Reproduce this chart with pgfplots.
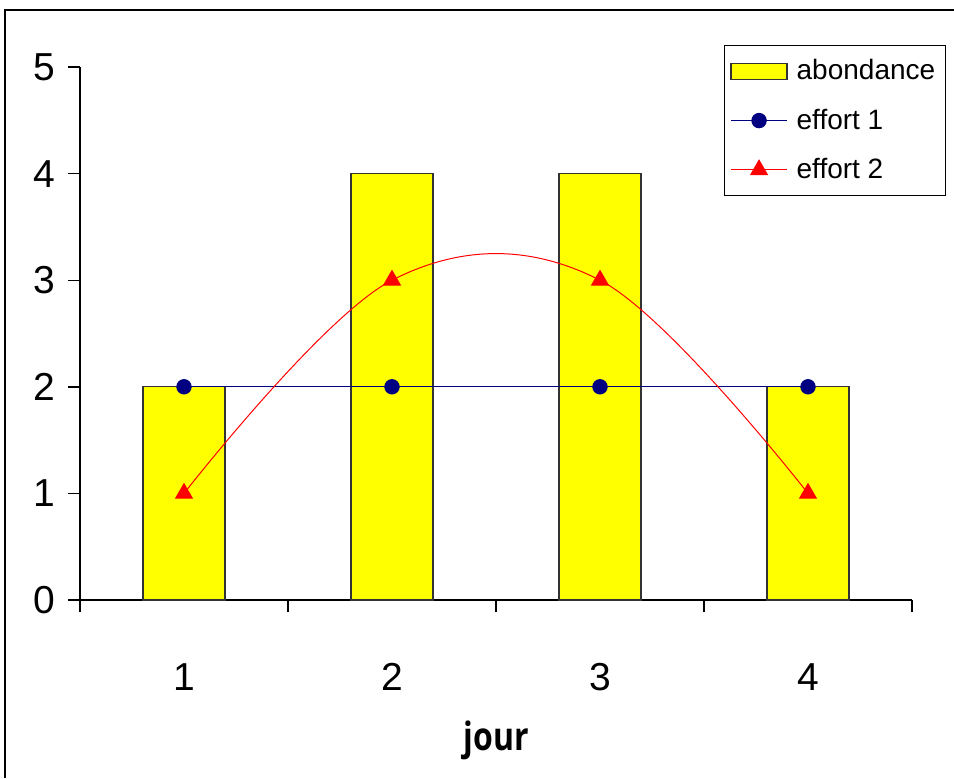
\documentclass[border=0pt]{standalone}
\usepackage{pgfplots}
\pgfplotsset{compat=1.18}
\usepackage{fontspec}
\setmainfont{Liberation Sans}
\newfontfamily\jourfont[FakeStretch=0.82]{Open Sans}
\definecolor{navyb}{HTML}{000080}
\definecolor{yel}{HTML}{FFFF00}
\pgfplotsset{
  lineleg/.style={legend image code/.code={\draw[mark repeat=2,mark phase=2,##1] plot coordinates {(0pt,0pt) (14pt,0pt) (28pt,0pt)};}},
  barleg/.style={legend image code/.code={\draw[fill=yel, draw=black!80, line width=0.6pt] (0pt,-4pt) rectangle (28pt,4pt);}},
}
\begin{document}
\begin{tikzpicture}
\path[use as bounding box] (0,0) rectangle (477pt,389pt);
\draw[line width=0.8pt] (2.5pt,0pt) -- (2.5pt,384pt) -- (477pt,384pt);
\begin{axis}[
  at={(40pt,89pt)}, anchor=south west,
  scale only axis, width=416pt, height=266.5pt,
  xmin=0.5, xmax=4.5, ymin=0, ymax=5,
  axis x line*=bottom, axis y line*=left,
  axis line style={line width=0.7pt},
  xtick={1,2,3,4}, xticklabels={1,2,3,4},
  major x tick style={draw=none},
  minor xtick={0.5,1.5,2.5,3.5,4.5},
  minor tick length=6pt,
  minor x tick style={line width=0.7pt, black},
  ytick={0,1,2,3,4,5},
  major tick length=6pt,
  tick align=outside,
  y tick style={line width=0.7pt, black},
  tick label style={font=\fontsize{19.5}{22}\selectfont},
  /pgf/number format/assume math mode=true,
  xticklabel style={anchor=center, yshift=-32.5pt},
  yticklabel style={anchor=center, xshift=-12pt},
  xlabel={\jourfont\bfseries jour},
  xlabel style={at={(axis description cs:0.5,-0.263)}, anchor=center, font=\fontsize{19.5}{22}\selectfont},
  legend style={at={(axis description cs:0.774,1.041)}, anchor=north west,
    draw=black, line width=0.5pt, font=\fontsize{14}{16}\selectfont,
    row sep=9pt, inner xsep=3pt, inner ysep=5pt, cells={anchor=west}},
  clip=false,
]
\addplot[ybar, bar width=41pt, fill=yel, draw=black!80, line width=0.6pt, barleg]
  coordinates {(1,2) (2,4) (3,4) (4,2)};
\addlegendentry{\hspace{2.5pt}abondance}
\addplot[navyb, line width=0.5pt, mark=*, mark size=3.6pt, mark options={fill=navyb}, lineleg]
  coordinates {(1,2) (2,2) (3,2) (4,2)};
\addlegendentry{\hspace{2.5pt}effort 1}
\addplot[red, line width=0.5pt, smooth, tension=0.6, mark=triangle*, mark size=4.8pt, mark options={fill=red, solid}, lineleg]
  coordinates {(1,1) (2,3) (3,3) (4,1)};
\addlegendentry{\hspace{2.5pt}effort 2}
\end{axis}
\end{tikzpicture}
\end{document}
